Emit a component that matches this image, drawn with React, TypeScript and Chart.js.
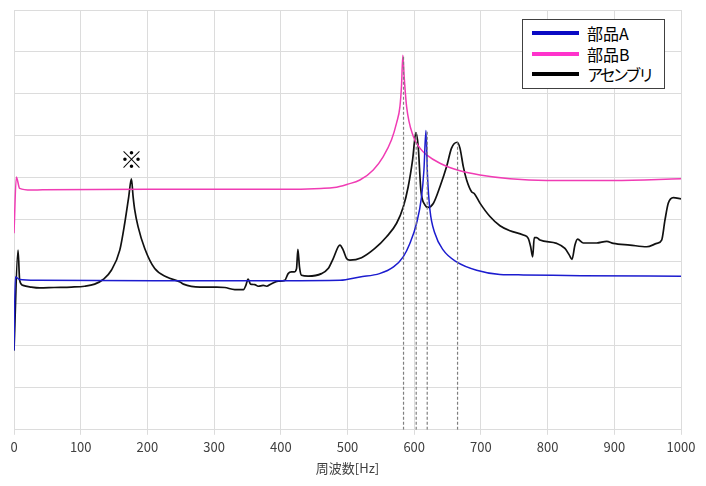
import { useEffect, useRef } from 'react'
import { Chart, registerables } from 'chart.js'

Chart.register(...registerables)

// [周波数 Hz, level]
const partACurve: [number, number][] = [
  [0, 1.89], [2, 3.64], [8.5, 3.58], [36, 3.56], [211, 3.55], [400, 3.55], [489, 3.56],
  [518.6, 3.64], [548, 3.72], [569, 3.88], [583.5, 4.12], [593.5, 4.44], [603.6, 4.92],
  [611, 5.55], [614.6, 6.19], [617.6, 7.13], [620, 6.03], [623.6, 5.24], [631, 4.68],
  [643.6, 4.28], [663.6, 4.0], [693.6, 3.8], [728.6, 3.7], [763.6, 3.69], [850, 3.67], [1000, 3.66],
]

const partBCurve: [number, number][] = [
  [0, 4.68], [3.5, 6.02], [8.5, 5.75], [26, 5.71], [43, 5.72], [200, 5.73], [400, 5.73],
  [460, 5.75], [480, 5.77], [500, 5.85], [518.6, 5.95], [538.6, 6.19], [553.6, 6.51],
  [566, 6.91], [573.6, 7.31], [578.6, 7.7], [581, 8.2], [583, 8.92], [585, 8.4], [588.6, 7.7],
  [598.6, 6.99], [608.6, 6.71], [618.6, 6.55], [638.6, 6.35], [668.6, 6.17], [698.6, 6.07],
  [743.6, 5.98], [798.6, 5.94], [898.6, 5.94], [1000, 5.98],
]

const assemblyCurve: [number, number][] = [
  [0, 1.89], [6, 4.28], [8.5, 3.56], [13.5, 3.44], [26, 3.4], [38.5, 3.38], [60, 3.39],
  [86, 3.4], [106, 3.42], [121, 3.47], [133.6, 3.58], [146, 3.8], [158.6, 4.28], [166, 4.92],
  [172, 5.55], [176, 5.98], [178.6, 5.55], [181, 5.24], [186, 4.84], [196, 4.32], [211, 3.84],
  [229, 3.64], [249, 3.52], [254, 3.47], [279, 3.4], [304, 3.4], [316, 3.39], [331, 3.34],
  [344, 3.34], [347.6, 3.44], [351, 3.59], [354.6, 3.47], [361, 3.46], [366, 3.42],
  [373.6, 3.44], [378.6, 3.42], [386, 3.48], [396, 3.54], [406, 3.56], [411, 3.72],
  [416, 3.76], [420, 3.76], [423.6, 3.84], [425.6, 4.3], [428, 3.88], [431, 3.68],
  [441, 3.66], [461, 3.72], [471, 3.84], [478.6, 4.08], [488.6, 4.4], [493.6, 4.28],
  [498.6, 4.08], [503.6, 4.04], [521, 4.1], [541, 4.32], [558.6, 4.6], [573.6, 4.92],
  [583.6, 5.31], [591, 5.79], [597.6, 6.43], [602.6, 7.08], [606, 6.75], [610, 5.71],
  [616, 5.36], [621, 5.3], [628.6, 5.39], [638.6, 5.79], [648.6, 6.27], [656, 6.71],
  [664.6, 6.85], [668.6, 6.71], [673.6, 6.27], [678.6, 5.95], [686, 5.67], [690, 5.63],
  [698.6, 5.4], [713.6, 5.08], [728.6, 4.86], [743.6, 4.74], [763.6, 4.64], [771, 4.56],
  [774.6, 4.36], [777.6, 4.12], [780, 4.58], [783.6, 4.58], [788.6, 4.52], [813.6, 4.44],
  [826, 4.32], [832.6, 4.16], [836.6, 4.06], [841, 4.4], [845, 4.54], [853.6, 4.45],
  [873.6, 4.45], [888.6, 4.49], [898.6, 4.44], [923.6, 4.4], [948.6, 4.36], [963.6, 4.44],
  [971, 4.52], [976, 5.0], [981, 5.4], [988.6, 5.53], [1000, 5.5],
]

// resonance markers: frequency and the peak they reach
const markerFreqs = [584, 603, 619.5, 665]
const markerTops = [8.92, 7.08, 7.13, 6.85]

const noteFreq = 176
const noteLevel = 6.45
const noteText = '※'

const xTicks = [0, 100, 200, 300, 400, 500, 600, 700, 800, 900, 1000]

const seriesNames = ['部品A', '部品B', 'アセンブリ']
const seriesColors = ['#1c1ccf', '#f03cb4', '#111111']
const legendColors = ['#0a0ac4', '#ff33cc', '#000000']

const FONT = '"Noto Sans CJK JP", "Noto Sans", sans-serif'

const toPoints = (c: [number, number][]) => c.map(([x, y]) => ({ x, y }))

const notePlugin = {
  id: 'note',
  afterDatasetsDraw(chart: Chart) {
    const { ctx, scales } = chart
    const px = scales.x.getPixelForValue(noteFreq)
    const py = scales.y.getPixelForValue(noteLevel)
    ctx.save()
    ctx.fillStyle = '#000'
    ctx.font = `bold 23px ${FONT}`
    ctx.textAlign = 'center'
    ctx.textBaseline = 'middle'
    ctx.fillText(noteText, px, py)
    ctx.restore()
  },
}

export default function App() {
  const canvasRef = useRef<HTMLCanvasElement | null>(null)
  const chartRef = useRef<Chart | null>(null)

  useEffect(() => {
    if (!canvasRef.current) return
    if (chartRef.current) chartRef.current.destroy()

    const curves = [partACurve, partBCurve, assemblyCurve]
    const lines: any[] = curves.map((c, i) => ({
      label: seriesNames[i],
      data: toPoints(c),
      borderColor: seriesColors[i],
      backgroundColor: seriesColors[i],
      borderWidth: i === 2 ? 1.7 : 1.5,
      pointRadius: 0,
      cubicInterpolationMode: 'monotone',
    }))
    const markers: any[] = markerFreqs.map((f, i) => ({
      label: 'marker' + i,
      data: [{ x: f, y: 0 }, { x: f, y: markerTops[i] }],
      borderColor: '#7f7f7f',
      borderWidth: 1.2,
      borderDash: [3, 2],
      pointRadius: 0,
    }))

    chartRef.current = new Chart(canvasRef.current, {
      type: 'line',
      data: { datasets: [...markers, ...lines] },
      options: {
        responsive: false,
        animation: false,
        layout: { padding: { left: 14, right: 25, top: 10, bottom: 10 } },
        plugins: {
          legend: { display: false },
          tooltip: { enabled: false },
        },
        scales: {
          x: {
            type: 'linear',
            min: 0,
            max: 1000,
            afterBuildTicks: (axis: any) => {
              axis.ticks = xTicks.map(v => ({ value: v }))
            },
            grid: { color: '#dcdcdc', tickLength: 5, tickColor: '#dcdcdc' },
            border: { color: '#dcdcdc' },
            ticks: {
              color: '#404040',
              font: { family: FONT, size: 13 },
              padding: 4,
              maxRotation: 0,
              callback: (v: any) => String(v),
            },
            title: {
              display: true,
              text: '周波数[Hz]',
              color: '#404040',
              font: { family: FONT, size: 13 },
              padding: { top: 2, bottom: 0 },
            },
          },
          y: {
            min: 0,
            max: 10,
            ticks: { display: false, stepSize: 1 },
            grid: { color: '#dcdcdc', drawTicks: false },
            border: { display: false },
          },
        },
      },
      plugins: [notePlugin],
    })

    return () => {
      if (chartRef.current) {
        chartRef.current.destroy()
        chartRef.current = null
      }
    }
  }, [])

  return (
    <div style={{ position: 'absolute', left: 0, top: 0, width: 706, height: 486, background: '#fff' }}>
      <canvas ref={canvasRef} width={706} height={486}></canvas>
      <div
        style={{
          position: 'absolute',
          left: 522,
          top: 19,
          width: 141,
          height: 68,
          border: '1px solid #404040',
          background: '#fff',
          fontFamily: FONT,
          fontSize: 16,
          color: '#000',
          boxSizing: 'content-box',
        }}
      >
        {seriesNames.map((n, i) => (
          <div
            key={n}
            style={{
              position: 'absolute',
              left: 9,
              top: 3 + i * 20.5,
              height: 20,
              display: 'flex',
              alignItems: 'center',
              whiteSpace: 'nowrap',
            }}
          >
            <span style={{ display: 'inline-block', width: 47, height: 4, background: legendColors[i], marginRight: 8 }}></span>
            <span style={{ lineHeight: '20px', letterSpacing: i === 2 ? -3 : 0 }}>{n}</span>
          </div>
        ))}
      </div>
    </div>
  )
}
